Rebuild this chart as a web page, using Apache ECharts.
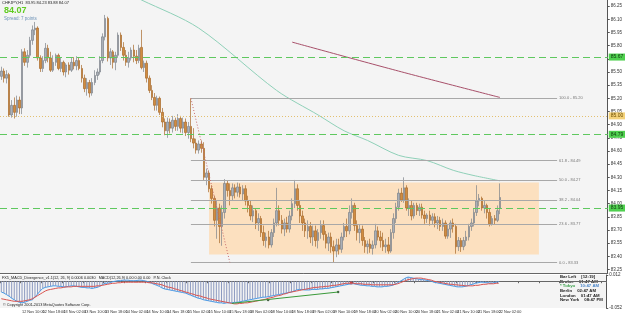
<!DOCTYPE html>
<html>
<head>
<meta charset="utf-8">
<script src="https://cdn.jsdelivr.net/npm/echarts@6/dist/echarts.min.js"></script>
<style>
  html, body { margin: 0; padding: 0; background: #ffffff; }
  #chart { width: 625px; height: 315px; }
</style>
</head>
<body>
<div id="chart"></div>
<script>
// CHFJPY,H1 with fibo box and FX5 MACD divergence window

// time axis labels, one every 8 bars
const timeLabels = [
  '12 Nov 2013', '12 Nov 10:00', '12 Nov 18:00', '13 Nov 02:00', '13 Nov 10:00',
  '13 Nov 18:00', '14 Nov 02:00', '14 Nov 10:00', '14 Nov 18:00', '15 Nov 02:00',
  '15 Nov 10:00', '15 Nov 18:00', '18 Nov 02:00', '18 Nov 10:00', '18 Nov 18:00',
  '19 Nov 02:00', '19 Nov 10:00', '19 Nov 18:00', '20 Nov 02:00', '20 Nov 10:00',
  '20 Nov 18:00', '21 Nov 02:00', '21 Nov 10:00', '21 Nov 18:00', '22 Nov 02:00'
];
const slotCount = 234; // bars + empty shift on the right

// [open, high, low, close]
const ohlc = [
  [85.45,85.56,85.41,85.51],[85.51,85.54,85.38,85.43],[85.43,85.52,85.37,85.47],[85.47,85.49,84.99,85.01],
  [85.01,85.18,84.98,85.12],[85.12,85.21,84.97,85.04],[85.04,85.23,84.99,85.18],[85.18,85.22,85.02,85.09],
  [85.09,85.76,85.02,85.73],[85.73,85.77,85.57,85.61],[85.61,85.75,85.55,85.69],[85.69,85.90,85.66,85.86],
  [85.86,86.03,85.81,85.98],[85.98,86.07,85.92,86.00],[86.00,86.02,85.63,85.66],[85.66,85.69,85.50,85.54],
  [85.54,85.68,85.50,85.63],[85.63,85.83,85.60,85.77],[85.77,85.81,85.61,85.66],[85.66,85.73,85.50,85.52],
  [85.52,85.69,85.50,85.61],[85.61,85.71,85.57,85.69],[85.69,85.71,85.52,85.54],[85.54,85.66,85.50,85.61],
  [85.61,85.63,85.46,85.50],[85.50,85.60,85.44,85.58],[85.58,85.61,85.47,85.52],[85.52,85.66,85.50,85.61],
  [85.61,85.67,85.53,85.57],[85.57,85.68,85.52,85.63],[85.63,85.66,85.52,85.54],[85.54,85.58,85.38,85.43],
  [85.43,85.47,85.27,85.31],[85.31,85.43,85.23,85.38],[85.38,85.41,85.21,85.26],[85.26,85.43,85.23,85.38],
  [85.38,85.52,85.35,85.46],[85.46,85.54,85.41,85.50],[85.50,85.68,85.47,85.63],[85.63,85.94,85.60,85.90],
  [85.90,86.15,85.86,86.11],[86.11,86.13,85.62,85.66],[85.66,85.77,85.58,85.73],[85.73,85.75,85.54,85.61],
  [85.61,85.73,85.52,85.69],[85.69,85.95,85.66,85.92],[85.92,85.95,85.74,85.78],[85.78,85.84,85.63,85.69],
  [85.69,85.75,85.57,85.61],[85.61,85.73,85.55,85.66],[85.66,85.78,85.63,85.75],[85.75,85.81,85.61,85.68],
  [85.68,85.75,85.59,85.63],[85.63,85.81,85.60,85.77],[85.78,85.98,85.53,85.55],[85.55,85.63,85.50,85.60],
  [85.60,85.63,85.38,85.43],[85.43,85.46,85.26,85.29],[85.29,85.35,85.18,85.21],[85.21,85.26,85.06,85.12],
  [85.12,85.23,85.06,85.20],[85.20,85.22,85.01,85.04],[85.04,85.09,84.87,84.93],[84.93,84.97,84.78,84.83],
  [84.83,84.98,84.75,84.93],[84.93,84.97,84.80,84.86],[84.86,85.00,84.81,84.95],[84.95,84.98,84.83,84.88],
  [84.88,85.02,84.83,84.97],[84.97,85.00,84.81,84.86],[84.86,84.98,84.80,84.93],[84.93,84.97,84.77,84.81],
  [84.81,84.93,84.74,84.88],[84.88,85.20,84.70,84.74],[84.74,84.86,84.63,84.69],[84.69,84.74,84.57,84.61],
  [84.61,84.72,84.57,84.68],[84.68,84.72,84.58,84.63],[84.63,84.70,84.27,84.30],[84.30,84.40,84.21,84.35],
  [84.35,84.38,84.13,84.17],[84.17,84.21,84.00,84.06],[84.06,84.09,83.74,83.81],[83.81,84.03,83.60,83.95],
  [83.95,84.00,83.55,83.74],[83.74,83.98,83.52,83.90],[83.90,84.28,83.83,84.23],[84.23,84.26,84.08,84.15],
  [84.15,84.23,83.98,84.09],[84.09,84.23,84.03,84.18],[84.18,84.22,84.06,84.13],[84.13,84.24,84.08,84.19],
  [84.19,84.23,84.07,84.11],[84.11,84.21,84.03,84.17],[84.17,84.21,83.98,84.03],[84.03,84.09,83.90,83.98],
  [83.98,84.03,83.81,83.86],[83.86,83.98,83.79,83.92],[83.92,83.95,83.71,83.78],[83.78,83.89,83.69,83.83],
  [83.83,83.86,83.62,83.67],[83.67,83.75,83.52,83.58],[83.58,83.67,83.50,83.62],[83.62,83.69,83.49,83.53],
  [83.53,83.71,83.50,83.67],[83.67,83.83,83.62,83.78],[83.78,84.18,83.74,83.92],[83.92,83.98,83.75,83.81],
  [83.81,83.87,83.66,83.71],[83.71,83.83,83.63,83.78],[83.78,83.85,83.67,83.71],[83.71,83.92,83.67,83.86],
  [83.86,84.06,83.81,84.00],[84.00,84.27,83.95,84.17],[84.17,84.22,83.92,83.98],[83.98,84.03,83.78,83.86],
  [83.86,83.92,83.69,83.78],[83.78,83.83,83.62,83.69],[83.69,83.81,83.60,83.74],[83.74,83.79,83.55,83.62],
  [83.62,83.75,83.52,83.69],[83.69,83.75,83.51,83.58],[83.58,83.71,83.49,83.67],[83.67,83.81,83.60,83.75],
  [83.75,83.81,83.58,83.65],[83.65,83.69,83.49,83.55],[83.55,83.67,83.46,83.62],[83.62,83.67,83.44,83.51],
  [83.51,83.58,83.33,83.46],[83.46,83.60,83.39,83.53],[83.53,83.60,83.42,83.48],[83.48,83.67,83.44,83.62],
  [83.62,83.78,83.58,83.74],[83.74,83.83,83.62,83.69],[83.69,83.98,83.65,83.90],[83.90,84.06,83.83,83.98],
  [83.98,84.01,83.69,83.75],[83.75,83.81,83.58,83.67],[83.67,83.76,83.55,83.71],[83.71,83.75,83.52,83.58],
  [83.58,83.62,83.44,83.51],[83.51,83.58,83.43,83.54],[83.54,83.60,83.44,83.49],[83.49,83.58,83.42,83.53],
  [83.53,83.77,83.49,83.69],[83.69,83.74,83.58,83.62],[83.62,83.69,83.50,83.58],[83.58,83.67,83.46,83.51],
  [83.51,83.60,83.44,83.53],[83.53,83.62,83.43,83.46],[83.46,83.71,83.44,83.67],[83.67,83.89,83.60,83.83],
  [83.83,84.01,83.78,83.96],[83.96,84.17,83.92,84.12],[84.12,84.18,84.02,84.04],[84.04,84.30,84.01,84.18],
  [84.18,84.21,83.92,83.95],[83.95,84.06,83.86,83.98],[83.98,84.03,83.81,83.86],[83.86,84.01,83.83,83.98],
  [83.98,84.01,83.87,83.92],[83.92,84.00,83.86,83.96],[83.96,84.00,83.83,83.87],[83.87,83.92,83.77,83.83],
  [83.83,83.89,83.78,83.87],[83.87,83.92,83.75,83.81],[83.81,83.89,83.76,83.85],[83.85,83.89,83.73,83.78],
  [83.78,83.86,83.71,83.81],[83.81,83.85,83.69,83.74],[83.74,83.83,83.69,83.78],[83.78,83.81,83.60,83.63],
  [83.63,83.76,83.60,83.71],[83.71,83.81,83.61,83.78],[83.78,83.83,83.67,83.74],[83.74,83.77,83.43,83.51],
  [83.51,83.62,83.46,83.58],[83.58,83.61,83.45,83.51],[83.51,83.62,83.47,83.58],[83.58,83.69,83.52,83.62],
  [83.62,83.77,83.58,83.74],[83.74,83.83,83.69,83.78],[83.78,83.95,83.74,83.90],[83.90,84.21,83.86,84.03],
  [84.03,84.11,83.97,84.06],[84.06,84.08,83.92,83.95],[83.95,84.03,83.89,83.98],[83.98,84.00,83.83,83.90],
  [83.90,83.95,83.74,83.77],[83.77,83.86,83.75,83.83],[83.83,83.87,83.76,83.81],[83.81,83.98,83.79,83.92],
  [83.95,84.23,83.88,84.07]
];

// moving averages, [bar index, price]
const maTeal = [[48,86.40],[54,86.32],[76,86.00],[106,85.29],[122,85.01],[132,84.83],[141,84.72],
  [153,84.55],[164,84.49],[174,84.38],[182,84.32],[192,84.26]];
const maMaroon = [[112,85.84],[153,85.51],[192,85.21]];

const priceTicks = [83.25,83.40,83.55,83.70,83.85,84.00,84.15,84.30,84.45,84.60,84.75,
  84.90,85.05,85.20,85.35,85.50,85.65,85.80,85.95,86.10,86.25];

// horizontal levels
const greenLevels = [85.666, 84.79, 83.95];
const yellowLevel = 85.00;
const lastPrice = 84.07;

// fibonacci retracement
const fiboStart = 73, fiboEnd = 214;
const fiboLevels = [['0.0',83.33],['23.6',83.77],['38.2',84.04],['50.0',84.27],['61.8',84.49],['100.0',85.20]];
const fiboTrend = [[73,85.20],[88,83.33]];
// range box
const boxFrom = [80, 84.24], boxTo = [207, 83.42];

// MACD window
const macdMain = [
  -0.021,-0.023,-0.026,-0.029,-0.033,-0.036,-0.039,-0.041,
  -0.042,-0.041,-0.039,-0.037,-0.036,
  -0.031,-0.025,-0.019,-0.014,
  -0.012,-0.011,-0.010,
  -0.009,-0.009,-0.010,-0.010,-0.011,-0.011,-0.010,-0.009,-0.009,-0.010,-0.011,-0.012,-0.012,-0.013,-0.013,-0.014,
  -0.013,-0.012,-0.010,
  -0.007,-0.004,-0.004,-0.003,
  -0.001,0.000,0.001,0.001,0.002,0.002,0.002,0.001,0.001,0.001,0.002,0.002,0.001,0.000,
  -0.002,-0.004,-0.006,-0.008,-0.010,
  -0.013,-0.015,-0.016,-0.017,-0.018,-0.019,-0.020,-0.021,-0.022,-0.023,
  -0.025,-0.027,-0.029,-0.031,-0.033,-0.034,-0.036,-0.037,-0.038,-0.039,-0.040,-0.041,
  -0.042,-0.042,-0.043,-0.042,-0.042,-0.042,
  -0.041,-0.041,-0.040,
  -0.039,-0.038,-0.037,-0.036,-0.035,-0.034,-0.033,-0.032,-0.031,-0.031,
  -0.030,-0.029,-0.028,-0.027,-0.026,-0.025,-0.024,-0.023,-0.022,-0.021,
  -0.019,-0.017,-0.016,-0.016,-0.017,
  -0.017,-0.017,-0.016,-0.016,-0.016,-0.015,-0.015,-0.014,-0.014,
  -0.013,-0.012,-0.011,-0.010,-0.009,-0.008,-0.007,-0.006,-0.005,-0.005,-0.006,-0.007,-0.008,-0.008,
  -0.009,-0.009,-0.010,-0.010,-0.011,-0.011,-0.011,-0.010,-0.010,-0.009,-0.008,
  -0.006,-0.003,0.000,0.003,0.006,0.008,
  0.007,0.006,0.005,0.004,0.003,0.003,0.002,0.001,
  0.000,-0.002,-0.003,-0.004,-0.005,-0.006,
  -0.007,-0.008,-0.009,-0.010,-0.011,-0.011,-0.011,-0.010,-0.009,
  -0.007,-0.006,-0.004,-0.003,-0.002,-0.002,
  -0.003,-0.003,-0.004,-0.003,-0.002,-0.001
];
const macdSignal = [
  -0.034,-0.035,-0.036,-0.037,-0.038,-0.039,
  -0.039,-0.039,-0.039,-0.038,-0.037,-0.036,-0.034,
  -0.031,
  -0.028,-0.025,-0.022,-0.019,
  -0.017,
  -0.016,-0.015,-0.014,-0.013,-0.013,-0.012,-0.011,
  -0.011,-0.011,-0.010,-0.010,-0.010,-0.010,-0.010,-0.010,-0.010,-0.010,-0.010,-0.009,-0.009,
  -0.008,-0.007,-0.006,-0.005,-0.004,-0.004,
  -0.003,-0.003,-0.002,-0.002,-0.002,-0.002,-0.002,-0.002,-0.002,
  -0.002,-0.002,-0.002,-0.003,-0.003,
  -0.004,-0.005,-0.006,-0.007,-0.009,-0.011,
  -0.012,-0.013,-0.015,-0.016,-0.018,-0.019,-0.021,
  -0.022,-0.024,-0.025,-0.027,-0.028,-0.029,-0.031,-0.032,
  -0.034,-0.035,-0.036,-0.037,-0.038,-0.039,-0.040,-0.041,-0.042,
  -0.043,-0.044,-0.044,-0.043,
  -0.043,-0.042,-0.042,-0.041,-0.040,-0.039,-0.038,-0.037,
  -0.036,-0.035,-0.033,-0.032,-0.031,-0.029,-0.028,-0.027,-0.025,-0.024,-0.022,-0.021,
  -0.020,-0.019,-0.018,-0.017,-0.016,-0.015,-0.014,-0.013,
  -0.012,-0.012,-0.011,-0.011,-0.010,-0.010,-0.009,-0.008,-0.008,-0.007,-0.006,-0.005,-0.004,-0.004,
  -0.004,-0.004,-0.005,-0.005,-0.005,-0.006,-0.006,-0.006,-0.007,-0.007,-0.007,-0.007,-0.007,-0.007,-0.007,-0.007,-0.007,-0.006,
  -0.005,-0.003,-0.001,0.001,0.003,0.004,0.005,0.006,0.006,0.006,0.005,
  0.004,0.003,0.002,0.000,-0.001,-0.002,-0.003,
  -0.004,-0.005,-0.006,-0.006,-0.007,-0.007,-0.008,
  -0.008,-0.009,-0.009,-0.009,-0.009,-0.008,
  -0.008,-0.007,-0.006,-0.006,-0.005,-0.005,-0.005,-0.004,-0.004
];
const macdTicks = [-0.052, 0.012];
const divergenceLine = [[89,-0.043],[130,-0.021]];
const divergenceDots = [[103,-0.0365],[130,-0.021]];
const signalDots = [[135,-0.0035]];

const clockRows = [
  ['Bar Left', '[12:19]'], ['Broker', '01:47 AM'], ['* Tokyo', '10:47 AM'],
  ['Berlin', '02:47 AM'], ['London', '01:47 AM'], ['New York', '08:47 PM']
];

const FONT = 'Liberation Sans';
const slots = Array.from({ length: slotCount }, (_, i) => String(i));

let myChart = echarts.init(document.getElementById('chart'), null, { renderer: 'canvas' });

const GREEN_LINE = { color: '#5fc85f', type: [7, 4], width: 1 };
const levelLines = [];
greenLevels.forEach(v => {
  levelLines.push({
    yAxis: v,
    lineStyle: GREEN_LINE,
    label: {
      show: true, position: 'end', distance: 1, formatter: v.toFixed(2),
      backgroundColor: '#4fd04f', color: '#0e3a0e', fontSize: 5, fontFamily: FONT, padding: [1, 2]
    }
  });
});
levelLines.push({
  yAxis: yellowLevel,
  lineStyle: { color: '#e3c070', type: [1, 2], width: 1 },
  label: {
    show: true, position: 'end', distance: 1, formatter: yellowLevel.toFixed(2),
    backgroundColor: '#f4d27a', color: '#6b4d00', fontSize: 5, fontFamily: FONT, padding: [1, 2]
  }
});
levelLines.push({
  yAxis: lastPrice,
  lineStyle: { opacity: 0 },
  label: {
    show: true, position: 'end', distance: 1, formatter: lastPrice.toFixed(2),
    backgroundColor: '#111111', color: '#ffffff', fontSize: 5, fontFamily: FONT, padding: [1, 2]
  }
});
fiboLevels.forEach(([name, v]) => {
  levelLines.push([
    { coord: [fiboStart, v], lineStyle: { color: '#a8a8a8', type: 'solid', width: 1 } },
    {
      coord: [fiboEnd, v],
      label: {
        show: true, position: 'end', distance: 2, formatter: name + ' - ' + v.toFixed(2),
        color: '#777', fontSize: 4, fontFamily: FONT
      }
    }
  ]);
});
levelLines.push([
  { coord: fiboTrend[0], lineStyle: { color: '#c86a6a', type: [1, 2], width: 1 } },
  { coord: fiboTrend[1], label: { show: false } }
]);

let option = {
  animation: false,
  backgroundColor: '#ffffff',
  grid: [
    { left: 0, right: 13, top: 0, height: 273, show: true, backgroundColor: '#f4f4f4', borderWidth: 0 },
    { left: 0, right: 13, top: 275, height: 33, show: true, backgroundColor: '#f4f4f4', borderWidth: 0 }
  ],
  xAxis: [
    {
      type: 'category', gridIndex: 0, data: slots, boundaryGap: true,
      axisLine: { show: true, lineStyle: { color: '#666' } },
      axisTick: { show: false }, axisLabel: { show: false }, splitLine: { show: false }
    },
    {
      type: 'category', gridIndex: 1, data: slots, boundaryGap: true,
      axisLine: { show: true, lineStyle: { color: '#666' } },
      axisTick: { show: true, interval: 7, length: 2, lineStyle: { color: '#666' } },
      axisLabel: {
        interval: 7, align: 'left', margin: 2, fontSize: 3.8, fontFamily: FONT, color: '#333',
        formatter: (v, idx) => timeLabels[idx / 8] || ''
      },
      splitLine: { show: false }
    }
  ],
  yAxis: [
    {
      type: 'value', gridIndex: 0, position: 'right', min: 83.21, max: 86.32, scale: true,
      axisLine: { show: true, lineStyle: { color: '#555' } },
      axisTick: { show: true, length: 2, customValues: priceTicks, lineStyle: { color: '#555' } },
      axisLabel: {
        customValues: priceTicks, margin: 3, fontSize: 4.5, fontFamily: FONT, color: '#333',
        formatter: v => v.toFixed(2)
      },
      splitLine: { show: false }
    },
    {
      type: 'value', gridIndex: 1, position: 'right', min: -0.052, max: 0.012,
      axisLine: { show: true, lineStyle: { color: '#555' } },
      axisTick: { show: true, length: 2, customValues: macdTicks, lineStyle: { color: '#555' } },
      axisLabel: {
        customValues: macdTicks, margin: 3, fontSize: 4.5, fontFamily: FONT, color: '#333',
        formatter: v => v.toFixed(3)
      },
      splitLine: { show: false }
    }
  ],
  series: [
    {
      name: 'CHFJPY', type: 'candlestick', xAxisIndex: 0, yAxisIndex: 0,
      data: ohlc.map(d => [d[0], d[3], d[2], d[1]]),
      barWidth: 2,
      itemStyle: {
        color: '#aab0b8', color0: '#d08c40',
        borderColor: '#7c828a', borderColor0: '#a8682a', borderWidth: 0.7
      },
      markArea: {
        silent: true,
        itemStyle: { color: '#fddcb5', opacity: 0.85 },
        data: [[{ coord: boxFrom }, { coord: boxTo }]]
      },
      markLine: {
        silent: true, symbol: ['none', 'none'], precision: 2,
        lineStyle: GREEN_LINE,
        data: levelLines
      }
    },
    {
      name: 'MA teal', type: 'line', xAxisIndex: 0, yAxisIndex: 0, data: maTeal,
      smooth: 0.3, showSymbol: false, lineStyle: { color: '#8fd0b8', width: 1 }
    },
    {
      name: 'MA maroon', type: 'line', xAxisIndex: 0, yAxisIndex: 0, data: maMaroon,
      smooth: 0.3, showSymbol: false, lineStyle: { color: '#a8506a', width: 1 }
    },
    {
      name: 'MACD hist', type: 'bar', xAxisIndex: 1, yAxisIndex: 1, data: macdMain,
      barWidth: 1, itemStyle: { color: '#8c9ac0' }
    },
    {
      name: 'MACD', type: 'line', xAxisIndex: 1, yAxisIndex: 1, data: macdMain,
      showSymbol: false, lineStyle: { color: '#4a9ae6', width: 1 }
    },
    {
      name: 'Signal', type: 'line', xAxisIndex: 1, yAxisIndex: 1, data: macdSignal,
      showSymbol: false, lineStyle: { color: '#d9534f', width: 1 }
    },
    {
      name: 'Divergence', type: 'line', xAxisIndex: 1, yAxisIndex: 1, data: divergenceLine,
      showSymbol: false, lineStyle: { color: '#3a9a3a', width: 1 }
    },
    {
      name: 'Div dots', type: 'scatter', xAxisIndex: 1, yAxisIndex: 1, data: divergenceDots,
      symbolSize: 2.5, itemStyle: { color: '#1a3a1a' }
    },
    {
      name: 'Sig dots', type: 'scatter', xAxisIndex: 1, yAxisIndex: 1, data: signalDots,
      symbolSize: 3, itemStyle: { color: '#cc2222' }
    }
  ],
  graphic: [
    { type: 'text', left: 2, top: 1, style: { text: 'CHFJPY,H1  83.95 84.23 83.88 84.07', fontSize: 4, fontFamily: FONT, fill: '#222' } },
    { type: 'text', left: 4, top: 6, style: { text: '84.07', fontSize: 9, fontWeight: 'bold', fontFamily: FONT, fill: '#5fcc1f' } },
    { type: 'text', left: 4, top: 16, style: { text: 'Spread: 7 points', fontSize: 4.5, fontFamily: FONT, fill: '#6e93b8' } },
    { type: 'text', left: 2, top: 276, style: { text: 'FX5_MACD_Divergence_v1.1(12, 26, 9) 0.0006 0.0030   MACD(12,26,9) 0.00 0.00 0.00   P.N. Clock', fontSize: 3.8, fontFamily: FONT, fill: '#222' } },
    { type: 'text', left: 3, top: 303, style: { text: '\u00A9 Copyright 2001-2013 MetaQuotes Software Corp.', fontSize: 3.8, fontFamily: FONT, fill: '#222' } }
  ].concat(clockRows.map((r, k) => ({
    type: 'group', left: 560, top: 275 + k * 4.6,
    children: [
      { type: 'text', x: 26, y: 0, style: { text: r[0], fontSize: 4.3, fontWeight: 'bold', fontFamily: FONT, align: 'right', fill: k === 2 ? '#3aa04a' : '#222' } },
      { type: 'text', x: 31, y: 0, style: { text: r[1], fontSize: 4.3, fontWeight: 'bold', fontFamily: FONT, align: 'left', fill: k === 2 ? '#4b86c8' : '#222' } }
    ]
  })))
};

myChart.setOption(option);
</script>
</body>
</html>
